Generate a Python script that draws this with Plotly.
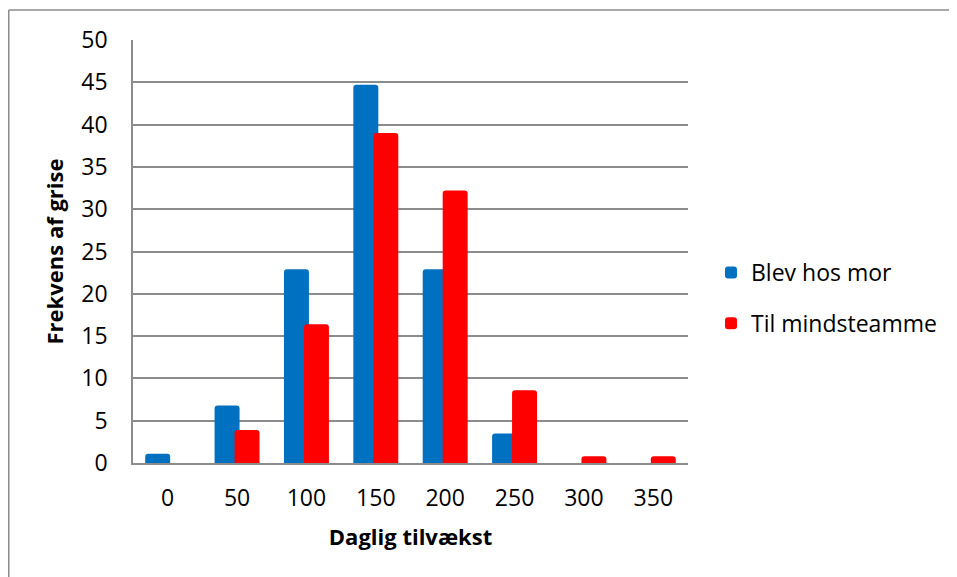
import plotly.graph_objects as go

categories = ["0", "50", "100", "150", "200", "250", "300", "350"]
blev_hos_mor = [1.1, 6.8, 22.9, 44.7, 22.9, 3.5, 0, 0]
til_mindsteamme = [0, 3.9, 16.4, 39.0, 32.2, 8.6, 0.8, 0.8]
y_ticks = [0, 5, 10, 15, 20, 25, 30, 35, 40, 45, 50]

FONT = "Open Sans"
GRID = "#8c8c8c"
OFF = 8  # page body margin

fig = go.Figure()
fig.add_trace(go.Bar(
    x=categories, y=blev_hos_mor, name="Blev hos mor",
    marker=dict(color="#0070C0", line=dict(width=0)),
    width=0.36, offset=-0.324, legendgroup="a",
))
fig.add_trace(go.Bar(
    x=categories, y=til_mindsteamme, name="Til mindsteamme",
    marker=dict(color="#FF0000", line=dict(width=0)),
    width=0.36, offset=-0.036, legendgroup="b",
))

W, H = 957, 577
# plot area in page pixels: x 133..688, y 40..463
L, T = 133 - OFF, 40 - OFF
pw, ph = 555, 423
R = W - L - pw
B = H - T - ph

def px_x(px):
    return (px - OFF - L) / pw

def px_y(py):
    return (T + ph - (py - OFF)) / ph

fig.update_layout(
    width=W, height=H,
    margin=dict(l=L, r=R, t=T, b=B, autoexpand=False),
    paper_bgcolor="white", plot_bgcolor="white",
    barmode="overlay", barcornerradius=3,
    font=dict(family=FONT, size=23, color="#000000"),
    showlegend=True,
    legend=dict(
        x=px_x(711), xanchor="left", y=px_y(298), yanchor="middle",
        font=dict(family=FONT, size=23, color="#000000"),
        traceorder="grouped", tracegroupgap=18,
        bgcolor="rgba(0,0,0,0)",
    ),
    xaxis=dict(
        type="category", range=[-0.5, 7.5],
        showline=True, linecolor=GRID, linewidth=1.5,
        showgrid=False, zeroline=False,
        ticks="outside", ticklen=14, tickcolor="rgba(0,0,0,0)",
        tickfont=dict(family=FONT, size=23, color="#000000"),
        title=dict(text="<b>Daglig tilvækst</b>", standoff=17,
                   font=dict(family=FONT, size=22, color="#000000")),
    ),
    yaxis=dict(
        range=[0, 50], tickvals=y_ticks,
        showline=True, linecolor=GRID, linewidth=1.5,
        showgrid=True, gridcolor=GRID, gridwidth=1.5, zeroline=False,
        ticks="outside", ticklen=19, tickcolor="rgba(0,0,0,0)",
        tickfont=dict(family=FONT, size=23, color="#000000"),
        title=dict(text="<b>Frekvens af grise</b>", standoff=12,
                   font=dict(family=FONT, size=22, color="#000000")),
    ),
    shapes=[
        dict(type="line", xref="paper", yref="paper",
             x0=px_x(8.75), x1=px_x(8.75), y0=px_y(H + 20), y1=px_y(10),
             line=dict(color=GRID, width=1.5)),
        dict(type="line", xref="paper", yref="paper",
             x0=px_x(8.75), x1=px_x(W + 20), y0=px_y(10), y1=px_y(10),
             line=dict(color=GRID, width=1.5)),
    ],
)

fig.write_html("out.html")
